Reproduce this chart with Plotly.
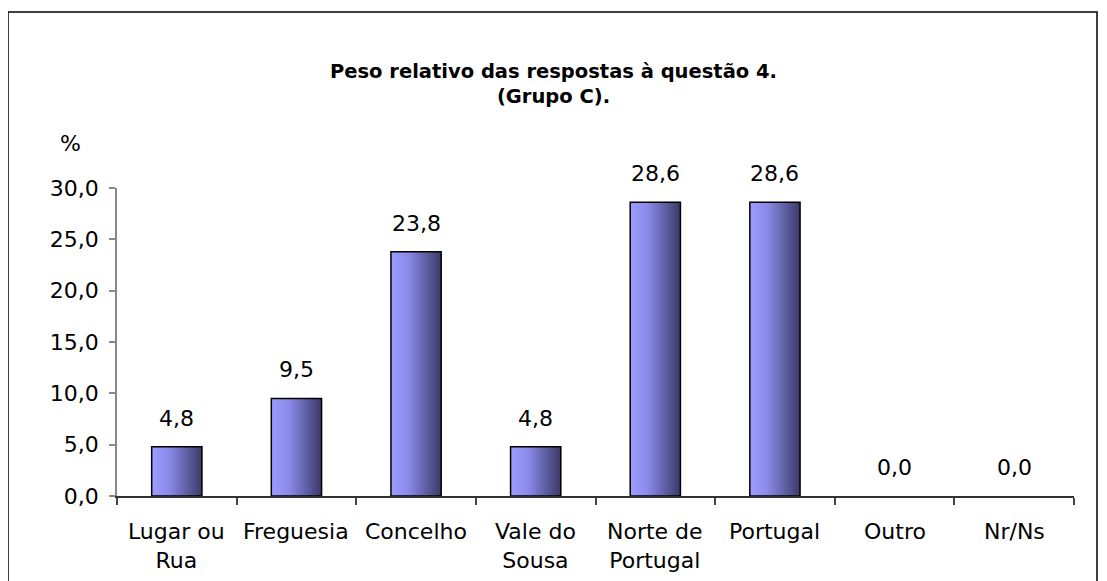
import plotly.graph_objects as go

categories = ["Lugar ou<br>Rua", "Freguesia", "Concelho", "Vale do<br>Sousa",
              "Norte de<br>Portugal", "Portugal", "Outro", "Nr/Ns"]
values = [4.8, 9.5, 23.8, 4.8, 28.6, 28.6, 0.0, 0.0]
y_ticks = [0, 5, 10, 15, 20, 25, 30]

# page body has an 8px margin: figure coordinates = screen coordinates - 8
OFF = 8
W, H = 1107 - OFF, 581 - OFF
L, T = 117 - OFF, 188 - OFF
R, B = W - (1074 - OFF), H - (496 - OFF)
pw, ph = W - L - R, H - T - B

FONT = "DejaVu Sans, Verdana, sans-serif"
bar_w = 0.42
grad = [[0, "#9c9cff"], [0.35, "#8a8ae8"], [1, "#3a3a68"]]

fig = go.Figure()
for i, v in enumerate(values):
    if v <= 0:
        continue
    x0, x1 = i - bar_w / 2, i + bar_w / 2
    fig.add_trace(go.Scatter(
        x=[x0, x1, x1, x0, x0], y=[0, 0, v, v, 0],
        mode="lines", fill="toself",
        fillgradient=dict(type="horizontal", colorscale=grad),
        line=dict(color="black", width=1.5),
        hoverinfo="skip", showlegend=False))

def fmt(v):
    return f"{v:.1f}".replace(".", ",")

def py(screen_y):
    return 1 - (screen_y - OFF - T) / ph

def px(screen_x):
    return (screen_x - OFF - L) / pw

annotations = []
for i, v in enumerate(values):
    annotations.append(dict(x=i, y=v, xref="x", yref="y", text=fmt(v),
                            showarrow=False, yanchor="bottom", yshift=14,
                            font=dict(family=FONT, size=22, color="black")))
    annotations.append(dict(x=i, y=py(517), xref="x", yref="paper",
                            text=categories[i], showarrow=False, yanchor="top",
                            font=dict(family=FONT, size=22, color="black")))

annotations.append(dict(x=px(70), y=py(143), xref="paper", yref="paper",
                        text="%", showarrow=False, xanchor="center", yanchor="middle",
                        font=dict(family=FONT, size=22, color="black")))

annotations.append(dict(x=px(553), y=py(84), xref="paper", yref="paper",
                        text="<b>Peso relativo das respostas à questão 4.<br>(Grupo C).</b>",
                        showarrow=False, xanchor="center", yanchor="middle",
                        font=dict(family=FONT, size=19.5, color="black")))

shapes = [dict(type="rect", xref="paper", yref="paper",
               x0=px(8), x1=px(1097),
               y0=py(640), y1=py(12),
               line=dict(color="black", width=1.5), fillcolor="rgba(0,0,0,0)", layer="below")]

fig.update_layout(
    width=W, height=H,
    margin=dict(l=L, r=R, t=T, b=B, pad=0),
    paper_bgcolor="white", plot_bgcolor="white",
    xaxis=dict(range=[-0.5, 7.5], tickvals=[k - 0.5 for k in range(9)],
               showticklabels=False, ticks="outside", ticklen=7, tickcolor="#444",
               tickwidth=1.5, showline=True, linecolor="#333", linewidth=1.5,
               showgrid=False, zeroline=False, fixedrange=True),
    yaxis=dict(range=[0, 30], tickvals=y_ticks, ticktext=[fmt(t) for t in y_ticks],
               ticks="outside", ticklen=6, tickcolor="#888", tickwidth=1.5,
               showline=True, linecolor="#888", linewidth=1.5,
               showgrid=False, zeroline=False, ticklabelstandoff=6,
               tickfont=dict(family=FONT, size=22, color="black"), fixedrange=True),
    annotations=annotations,
    shapes=shapes,
    showlegend=False,
)

fig.write_html("out.html")
